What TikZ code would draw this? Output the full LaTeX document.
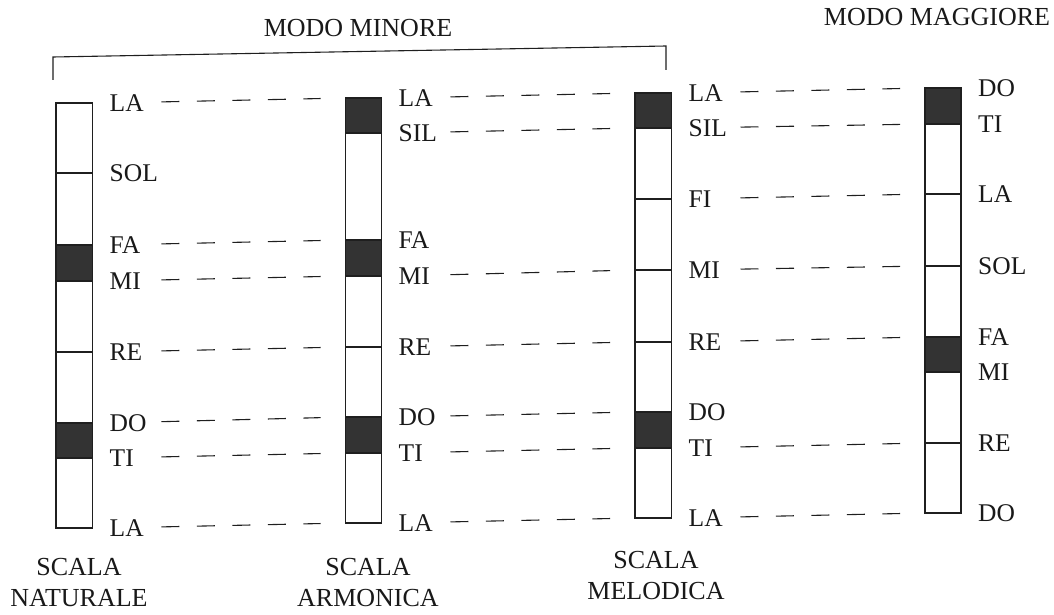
\documentclass[tikz,border=0pt]{standalone}
\usepackage{fontspec}
\setmainfont{Liberation Serif}
\usetikzlibrary{positioning}
\tikzset{
  bar/.style={draw=black!88, line width=1.1pt},
  semi/.style={fill=black!80, draw=black!88, line width=1.1pt},
  note/.style={inner sep=0pt, text=black!90, font=\fontsize{25.5}{30}\selectfont},
  dashline/.style={draw=black!88, line width=1.1pt, dash pattern=on 18pt off 17.5pt, shorten <=52pt, shorten >=25pt},
  title/.style={inner sep=0pt, text=black!90, font=\fontsize{26}{30}\selectfont},
  scalename/.style={inner sep=0pt, align=center, text=black!90, font=\fontsize{26}{31}\selectfont}
}
\begin{document}
\begin{tikzpicture}[x=1pt,y=-1pt]
        \useasboundingbox (0,0) rectangle (1054,615);

        \coordinate (b1la) at (56,103);
        \coordinate (b1sol) at (56,173);
        \coordinate (b1fa) at (56,245);
        \coordinate (b1mi) at (56,281);
        \coordinate (b1re) at (56,352);
        \coordinate (b1do) at (56,423);
        \coordinate (b1ti) at (56,458);
        \coordinate (b1lab) at (56,528);

        \coordinate (b2la) at (345.5,98);
        \coordinate (b2sil) at (345.5,133);
        \coordinate (b2fa) at (345.5,240);
        \coordinate (b2mi) at (345.5,276);
        \coordinate (b2re) at (345.5,347);
        \coordinate (b2do) at (345.5,417);
        \coordinate (b2ti) at (345.5,453);
        \coordinate (b2lab) at (345.5,523);

        \coordinate (b3la) at (635,93);
        \coordinate (b3sil) at (635,128);
        \coordinate (b3fi) at (635,199);
        \coordinate (b3mi) at (635,270);
        \coordinate (b3re) at (635,342);
        \coordinate (b3do) at (635,412);
        \coordinate (b3ti) at (635,448);
        \coordinate (b3lab) at (635,518);

        \coordinate (b4do) at (925,88);
        \coordinate (b4ti) at (925,124);
        \coordinate (b4la) at (925,194);
        \coordinate (b4sol) at (925,266);
        \coordinate (b4fa) at (925,337);
        \coordinate (b4mi) at (925,372);
        \coordinate (b4re) at (925,443);
        \coordinate (b4dob) at (925,513);

        \filldraw[semi] (b1fa) rectangle ([xshift=36.5pt]b1mi);
        \filldraw[semi] (b1do) rectangle ([xshift=36.5pt]b1ti);
        \draw[bar] (b1sol) -- ++(36.5,0);
        \draw[bar] (b1re) -- ++(36.5,0);
        \draw[bar] (b1la) rectangle ([xshift=36.5pt]b1lab);

        \filldraw[semi] (b2la) rectangle ([xshift=36pt]b2sil);
        \filldraw[semi] (b2fa) rectangle ([xshift=36pt]b2mi);
        \filldraw[semi] (b2do) rectangle ([xshift=36pt]b2ti);
        \draw[bar] (b2re) -- ++(36,0);
        \draw[bar] (b2la) rectangle ([xshift=36pt]b2lab);

        \filldraw[semi] (b3la) rectangle ([xshift=36.5pt]b3sil);
        \filldraw[semi] (b3do) rectangle ([xshift=36.5pt]b3ti);
        \draw[bar] (b3fi) -- ++(36.5,0);
        \draw[bar] (b3mi) -- ++(36.5,0);
        \draw[bar] (b3re) -- ++(36.5,0);
        \draw[bar] (b3la) rectangle ([xshift=36.5pt]b3lab);

        \filldraw[semi] (b4do) rectangle ([xshift=36pt]b4ti);
        \filldraw[semi] (b4fa) rectangle ([xshift=36pt]b4mi);
        \draw[bar] (b4la) -- ++(36,0);
        \draw[bar] (b4sol) -- ++(36,0);
        \draw[bar] (b4re) -- ++(36,0);
        \draw[bar] (b4do) rectangle ([xshift=36pt]b4dob);

        \node[note, right=53.5pt of b1la] (n1la) {LA};
        \node[note, right=53.5pt of b1sol] (n1sol) {SOL};
        \node[note, right=53.5pt of b1fa] (n1fa) {FA};
        \node[note, right=53.5pt of b1mi] (n1mi) {MI};
        \node[note, right=53.5pt of b1re] (n1re) {RE};
        \node[note, right=53.5pt of b1do] (n1do) {DO};
        \node[note, right=53.5pt of b1ti] (n1ti) {TI};
        \node[note, right=53.5pt of b1lab] (n1lab) {LA};

        \node[note, right=53pt of b2la] (n2la) {LA};
        \node[note, right=53pt of b2sil] (n2sil) {SIL};
        \node[note, right=53pt of b2fa] (n2fa) {FA};
        \node[note, right=53pt of b2mi] (n2mi) {MI};
        \node[note, right=53pt of b2re] (n2re) {RE};
        \node[note, right=53pt of b2do] (n2do) {DO};
        \node[note, right=53pt of b2ti] (n2ti) {TI};
        \node[note, right=53pt of b2lab] (n2lab) {LA};

        \node[note, right=53.5pt of b3la] (n3la) {LA};
        \node[note, right=53.5pt of b3sil] (n3sil) {SIL};
        \node[note, right=53.5pt of b3fi] (n3fi) {FI};
        \node[note, right=53.5pt of b3mi] (n3mi) {MI};
        \node[note, right=53.5pt of b3re] (n3re) {RE};
        \node[note, right=53.5pt of b3do] (n3do) {DO};
        \node[note, right=53.5pt of b3ti] (n3ti) {TI};
        \node[note, right=53.5pt of b3lab] (n3lab) {LA};

        \node[note, right=53pt of b4do] (n4do) {DO};
        \node[note, right=53pt of b4ti] (n4ti) {TI};
        \node[note, right=53pt of b4la] (n4la) {LA};
        \node[note, right=53pt of b4sol] (n4sol) {SOL};
        \node[note, right=53pt of b4fa] (n4fa) {FA};
        \node[note, right=53pt of b4mi] (n4mi) {MI};
        \node[note, right=53pt of b4re] (n4re) {RE};
        \node[note, right=53pt of b4dob] (n4dob) {DO};

        \draw[dashline] (n1la.west) -- (b2la);
        \draw[dashline] (n1fa.west) -- (b2fa);
        \draw[dashline] (n1mi.west) -- (b2mi);
        \draw[dashline] (n1re.west) -- (b2re);
        \draw[dashline] (n1do.west) -- (b2do);
        \draw[dashline] (n1ti.west) -- (b2ti);
        \draw[dashline] (n1lab.west) -- (b2lab);

        \draw[dashline] (n2la.west) -- (b3la);
        \draw[dashline] (n2sil.west) -- (b3sil);
        \draw[dashline] (n2mi.west) -- (b3mi);
        \draw[dashline] (n2re.west) -- (b3re);
        \draw[dashline] (n2do.west) -- (b3do);
        \draw[dashline] (n2ti.west) -- (b3ti);
        \draw[dashline] (n2lab.west) -- (b3lab);

        \draw[dashline] (n3la.west) -- (b4do);
        \draw[dashline] (n3sil.west) -- (b4ti);
        \draw[dashline] (n3fi.west) -- (b4la);
        \draw[dashline] (n3mi.west) -- (b4sol);
        \draw[dashline] (n3re.west) -- (b4fa);
        \draw[dashline] (n3ti.west) -- (b4re);
        \draw[dashline] (n3lab.west) -- (b4dob);

        \draw[bar] (53,80) -- (53,57) -- (666,46) -- (666,70);

        \node[title] (minore) at (358,28) {MODO MINORE};
        \node[title] (maggiore) at (937,17) {MODO MAGGIORE};

        \node[scalename] (naturale) at (79,582.5) {SCALA\\NATURALE};
        \node[scalename] (armonica) at (368,583) {SCALA\\ARMONICA};
        \node[scalename] (melodica) at (656,576) {SCALA\\MELODICA};
      \end{tikzpicture}
\end{document}
